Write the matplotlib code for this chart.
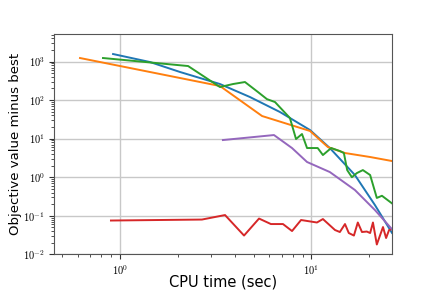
import matplotlib
matplotlib.use("Agg")
import matplotlib.pyplot as plt
from matplotlib.ticker import FuncFormatter
import numpy as np

plt.rcParams['mathtext.fontset'] = 'cm'

blue_t = [0.92, 1.435, 2.06, 3.33, 4.78, 6.86, 9.85, 12.5, 16.9, 21.5, 26.4]
blue_v = [1565, 970, 535, 261, 120, 49, 16.7, 5.7, 1.14, 0.19, 0.036]

orange_t = [0.618, 3.33, 5.53, 9.85, 12.2, 15.0, 20.3, 26.4]
orange_v = [1233, 232, 38.6, 15.8, 6.07, 4.24, 3.34, 2.63]

green_t = [0.815, 2.27, 3.33, 3.90, 4.50, 5.26, 5.86, 6.46, 7.73, 8.32, 8.94, 9.50,
           10.8, 11.5, 12.7, 14.1, 14.8, 15.4, 16.3, 17.3, 18.6, 20.3, 22.0, 23.4, 26.4]
green_v = [1233, 764, 218, 261, 294, 162, 106, 89, 34.3, 9.77, 13.2, 5.71,
           5.71, 3.76, 5.71, 4.77, 4.24, 1.53, 1.0, 1.28, 1.53, 1.14, 0.29, 0.33, 0.21]

red_t = [0.897, 2.68, 3.54, 4.45, 5.33, 6.15, 7.11, 7.93, 8.84, 10.7, 11.5, 13.3,
         14.1, 15.0, 15.7, 16.7, 17.5, 18.4, 19.5, 20.3, 21.0, 22.0, 22.9, 23.7,
         24.6, 25.5, 26.4]
red_v = [0.0753, 0.0798, 0.1044, 0.0307, 0.0847, 0.0610, 0.0610, 0.0402, 0.0776,
         0.0669, 0.0822, 0.0427, 0.0379, 0.0610, 0.0357, 0.0307, 0.0669, 0.0379,
         0.0390, 0.0357, 0.0669, 0.0180, 0.0316, 0.0510, 0.0265, 0.0427, 0.0453]

purple_t = [3.45, 6.38, 7.93, 9.50, 12.5, 16.9, 21.5, 26.4]
purple_v = [9.2, 12.4, 5.7, 2.48, 1.36, 0.466, 0.141, 0.045]

fig = plt.figure(figsize=(4.36, 2.91), dpi=100)
ax = fig.add_axes([0.1239, 0.126, 0.899 - 0.1239, 0.883 - 0.126])

ax.plot(blue_t, blue_v, color='#1f77b4', lw=1.4)
ax.plot(orange_t, orange_v, color='#ff7f0e', lw=1.4)
ax.plot(green_t, green_v, color='#2ca02c', lw=1.4)
ax.plot(red_t, red_v, color='#d62728', lw=1.4)
ax.plot(purple_t, purple_v, color='#9467bd', lw=1.4)

ax.set_xscale('log')
ax.set_yscale('log')
ax.set_xlim(0.452, 26.4)
ax.set_ylim(1e-2, 5160)

def sci(v, pos):
    e = int(round(np.log10(v)))
    return r'$10^{%d}$' % e

ax.xaxis.set_major_formatter(FuncFormatter(sci))
ax.yaxis.set_major_formatter(FuncFormatter(sci))

ax.grid(True, which='major', color='#c8c8c8', lw=1.0)
ax.set_axisbelow(True)
for s in ax.spines.values():
    s.set_color('#555555')
ax.tick_params(which='both', labelsize=7.5, color='#333333')
ax.tick_params(which='major', length=3.5, pad=3)
ax.tick_params(which='minor', length=2)

ax.set_xlabel('CPU time (sec)', fontsize=10.5)
ax.set_ylabel('Objective value minus best', fontsize=9.5)
ax.xaxis.set_label_coords(0.5, -0.092)
ax.yaxis.set_label_coords(-0.095, 0.5)

fig.savefig('out.png', dpi=100)
